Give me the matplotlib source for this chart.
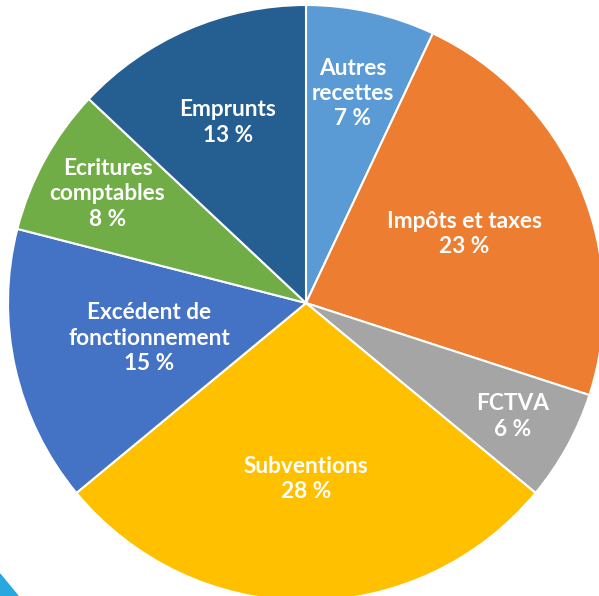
import numpy as np
import matplotlib
matplotlib.use("Agg")
import matplotlib.pyplot as plt
from matplotlib.patches import Polygon

# Budget share, clockwise from 12 o'clock
labels = ["Autres\nrecettes", "Impôts et taxes", "FCTVA", "Subventions",
          "Excédent de\nfonctionnement", "Ecritures\ncomptables", "Emprunts"]
shares = [7, 23, 6, 28, 15, 8, 13]
colors = ["#5B9BD5", "#ED7D31", "#A5A5A5", "#FFC000", "#4472C4", "#70AD47", "#255E91"]
# how far from the centre each label sits (fraction of radius)
label_dist = [0.72, 0.58, 0.79, 0.59, 0.54, 0.76, 0.66]

W, H = 599, 596
fig = plt.figure(figsize=(W / 100, H / 100), dpi=100)
ax = fig.add_axes([0, 0, 1, 1])

cx, cy, r = 306, H - 303, 298
wedges, _ = ax.pie(shares, colors=colors, startangle=90, counterclock=False,
                   center=(cx, cy), radius=r, frame=True,
                   wedgeprops=dict(edgecolor="white", linewidth=1.5))
ax.set_xlim(0, W)
ax.set_ylim(0, H)
ax.set_aspect("equal")
ax.axis("off")

for w, lab, pct, d in zip(wedges, labels, shares, label_dist):
    mid = np.deg2rad((w.theta1 + w.theta2) / 2)
    x = cx + d * r * np.cos(mid)
    y = cy + d * r * np.sin(mid)
    ax.text(x, y, f"{lab}\n{pct} %", ha="center", va="center", color="white",
            fontsize=16.3, family="Lato", fontweight="bold", linespacing=1.25)

# light-blue corner decoration bottom-left
fig.patches.append(Polygon([(0, 0), (0, 22 / H), (18 / W, 0)], closed=True,
                           transform=fig.transFigure, color="#29A8E0"))

fig.savefig("out.png", dpi=100)
